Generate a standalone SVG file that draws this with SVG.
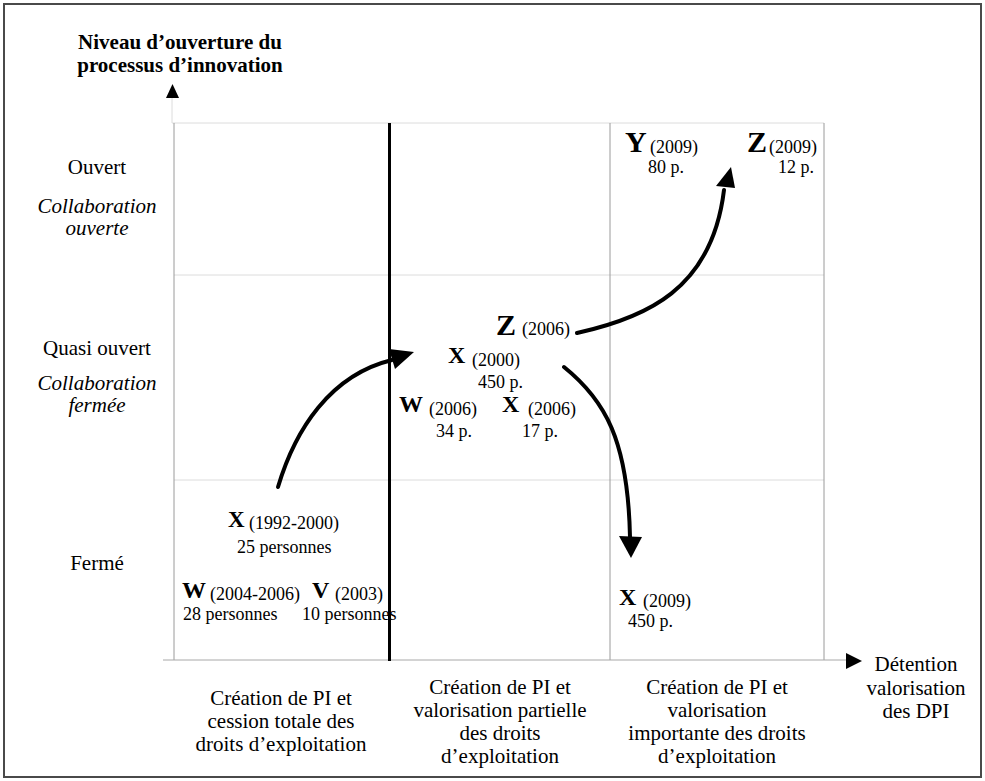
<svg xmlns="http://www.w3.org/2000/svg" width="985" height="781" viewBox="0 0 985 781" font-family="'Liberation Serif', 'Times New Roman', 'DejaVu Serif', serif">
<style>
text{font-family:'Liberation Serif','Times New Roman','DejaVu Serif',serif;fill:#000}
.t{font-size:21px;text-anchor:middle}
.it{font-style:italic}
.b{font-weight:bold}
.L{font-size:24px;font-weight:bold}
.XL{font-size:30px;font-weight:bold}
.s{font-size:18px}
.grid{stroke:#dcdcdc;stroke-width:1;fill:none}
.vline{stroke:#9a9a9a;stroke-width:1;fill:none}
.curve{stroke:#000;stroke-width:4;fill:none;stroke-linecap:round}
.head{fill:#000}
</style>
<rect x="4" y="4" width="977" height="773" fill="#fff" stroke="#4a4a4a" stroke-width="2"/>
<g id="axes">
<line class="grid" x1="172" y1="98" x2="172" y2="123"/>
<polygon class="head" points="166,98 172.5,84 179,98"/>
<line class="grid" x1="172" y1="123" x2="824" y2="123"/>
<line class="grid" x1="174" y1="275" x2="824" y2="275"/>
<line class="grid" x1="174" y1="480" x2="824" y2="480"/>
<line class="vline" x1="174" y1="123" x2="174" y2="660"/>
<line class="vline" x1="610" y1="123" x2="610" y2="660"/>
<line class="vline" x1="824" y1="123" x2="824" y2="660"/>
<line x1="163" y1="660" x2="846" y2="660" stroke="#a8a8a8" stroke-width="1"/>
<line x1="389.5" y1="123" x2="389.5" y2="661" stroke="#000" stroke-width="3"/>
<polygon class="head" points="846,653 862,661 846,669"/>
</g>
<g id="title">
<text class="t b" x="180" y="49">Niveau d’ouverture du</text>
<text class="t b" x="180" y="72">processus d’innovation</text>
</g>
<g id="row-labels">
<text class="t" x="97" y="174">Ouvert</text>
<text class="t it" x="97" y="213">Collaboration</text>
<text class="t it" x="97" y="235">ouverte</text>
<text class="t" x="97" y="355">Quasi ouvert</text>
<text class="t it" x="97" y="390">Collaboration</text>
<text class="t it" x="97" y="412">fermée</text>
<text class="t" x="97" y="570">Fermé</text>
</g>
<g id="col-labels">
<text class="t" x="281" y="705">Création de PI et</text>
<text class="t" x="281" y="728">cession totale des</text>
<text class="t" x="281" y="751">droits  d’exploitation</text>
<text class="t" x="500" y="694">Création de PI et</text>
<text class="t" x="500" y="717">valorisation partielle</text>
<text class="t" x="500" y="740">des droits</text>
<text class="t" x="500" y="763">d’exploitation</text>
<text class="t" x="717" y="694">Création de PI et</text>
<text class="t" x="717" y="717">valorisation</text>
<text class="t" x="717" y="740">importante des droits</text>
<text class="t" x="717" y="763">d’exploitation</text>
<text class="t" x="916" y="671">Détention</text>
<text class="t" x="916" y="695">valorisation</text>
<text class="t" x="916" y="718">des DPI</text>
</g>
<g id="node-x-1992">
<text class="L" x="228" y="527" style="font-size:23px">X</text>
<text class="s" x="249" y="529">(1992-2000)</text>
<text class="s" x="237" y="553">25 personnes</text>
</g>
<g id="node-w-2004">
<text class="L" x="182" y="598">W</text>
<text class="s" x="210" y="600">(2004-2006)</text>
<text class="s" x="183" y="620">28 personnes</text>
</g>
<g id="node-v-2003">
<text class="L" x="312" y="598">V</text>
<text class="s" x="335" y="600">(2003)</text>
<text class="s" x="302" y="620">10 personnes</text>
</g>
<g id="node-z-2006">
<text class="XL" x="496" y="335">Z</text>
<text class="s" x="522" y="335">(2006)</text>
</g>
<g id="node-x-2000">
<text class="L" x="448" y="363">X</text>
<text class="s" x="472" y="366">(2000)</text>
<text class="s" x="478" y="388">450 p.</text>
</g>
<g id="node-w-2006">
<text class="L" x="399" y="412">W</text>
<text class="s" x="429" y="415">(2006)</text>
<text class="s" x="436" y="437">34 p.</text>
</g>
<g id="node-x-2006">
<text class="L" x="502" y="412">X</text>
<text class="s" x="528" y="415">(2006)</text>
<text class="s" x="522" y="437">17 p.</text>
</g>
<g id="node-y-2009">
<text class="XL" x="625" y="152">Y</text>
<text class="s" x="650" y="153">(2009)</text>
<text class="s" x="648" y="173">80 p.</text>
</g>
<g id="node-z-2009">
<text class="XL" x="747" y="152">Z</text>
<text class="s" x="769" y="153">(2009)</text>
<text class="s" x="778" y="173">12 p.</text>
</g>
<g id="node-x-2009">
<text class="L" x="619" y="605">X</text>
<text class="s" x="643" y="607">(2009)</text>
<text class="s" x="628" y="627">450 p.</text>
</g>
<g id="connectors">
<path class="curve" d="M278,487 C295,430 330,375 392,360"/>
<polygon class="head" points="389,349 414,352 395,369"/>
<path class="curve" d="M577,333 C645,318 712,290 724,190"/>
<polygon class="head" points="716,186 731,167 735,188"/>
<path class="curve" d="M564,367 C605,400 628,440 630,537"/>
<polygon class="head" points="619,536 642,537 631,558"/>
</g>
</svg>
